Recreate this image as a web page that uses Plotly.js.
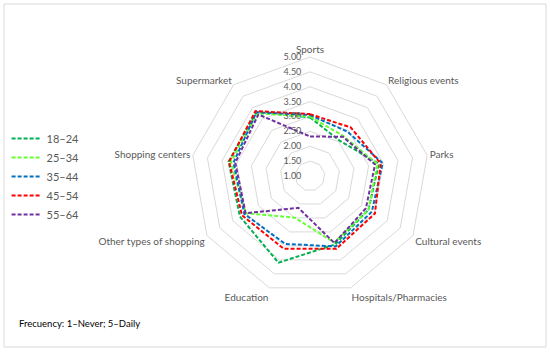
<!DOCTYPE html>
<html>
<head>
<meta charset="utf-8">
<script src="https://cdn.plot.ly/plotly-3.0.1.min.js"></script>
<style>html,body{margin:0;padding:0;background:#fff;}#chart{width:550px;height:353px;}</style>
</head>
<body>
<div id="chart"></div>
<script>
const categories = ['Sports','Religious events','Parks','Cultural events','Hospitals/Pharmacies','Education','Other types of shopping','Shopping centers','Supermarket'];
const seriesNames = ['18–24','25–34','35–44','45–54','55–64'];
const age18_24 = [2.97, 2.55, 3.35, 3.27, 3.45, 4.10, 3.72, 3.78, 3.80];
const age25_34 = [3.00, 2.75, 3.30, 3.27, 3.38, 2.49, 3.50, 3.70, 3.75];
const age35_44 = [3.05, 2.95, 3.48, 3.40, 3.52, 3.43, 3.55, 3.61, 3.80];
const age45_54 = [3.08, 3.13, 3.41, 3.52, 3.60, 3.60, 3.64, 3.76, 3.85];
const age55_64 = [2.33, 2.72, 3.22, 3.17, 3.40, 2.14, 3.50, 3.55, 3.70];
const radialTicks = [1, 1.5, 2, 2.5, 3, 3.5, 4, 4.5, 5];
const radialTickText = ['1.00','1.50','2.00','2.50','3.00','3.50','4.00','4.50','5.00'];

const seriesValues = [age18_24, age25_34, age35_44, age45_54, age55_64];
const colors = ['#00b050','#66ff33','#0070c0','#ff0000','#7030a0'];
const font = 'Lato, "Open Sans", sans-serif';

const traces = seriesValues.map((vals, i) => ({
  type: 'scatterpolar',
  mode: 'lines',
  name: seriesNames[i],
  r: vals.concat([vals[0]]),
  theta: categories.concat([categories[0]]),
  line: {color: colors[i], width: 2, dash: '4px,2px'},
  hoverinfo: 'skip'
}));

const layout = {
  width: 550, height: 353,
  margin: {l: 0, r: 0, t: 0, b: 0},
  paper_bgcolor: '#ffffff',
  plot_bgcolor: '#ffffff',
  font: {family: font, size: 11, color: '#595959'},
  showlegend: true,
  legend: {
    x: 0.012, y: 0.649, xanchor: 'left', yanchor: 'top',
    font: {family: font, size: 11, color: '#595959'},
    bgcolor: 'rgba(0,0,0,0)', tracegroupgap: 0
  },
  polar: {
    domain: {x: [191/550, 429/550], y: [58/353, 296/353]},
    bgcolor: '#ffffff',
    gridshape: 'linear',
    radialaxis: {
      range: [1, 5], tickvals: radialTicks, ticktext: radialTickText,
      angle: 90, tickangle: 90, side: 'counterclockwise',
      showline: false, ticks: 'outside', ticklen: 5, tickcolor: 'rgba(0,0,0,0)',
      gridcolor: '#d9d9d9', gridwidth: 1,
      tickfont: {family: font, size: 9, color: '#595959'}
    },
    angularaxis: {
      direction: 'clockwise', rotation: 90,
      showgrid: false, showline: true, linecolor: '#d9d9d9', linewidth: 1,
      ticks: '',
      tickfont: {family: font, size: 10, color: '#595959'}
    }
  },
  shapes: [{
    type: 'rect', xref: 'paper', yref: 'paper',
    x0: 4/550, x1: 546/550, y0: 6/353, y1: 349/353,
    line: {color: '#d9d9d9', width: 1}, fillcolor: 'rgba(0,0,0,0)'
  }],
  annotations: [{
    xref: 'paper', yref: 'paper', x: 17/550, y: (353-323)/353,
    xanchor: 'left', yanchor: 'middle', showarrow: false,
    text: 'Frecuency: 1–Never; 5–Daily',
    font: {family: font, size: 9.5, color: '#000000'}
  }]
};

Plotly.newPlot('chart', traces, layout, {staticPlot: true, displayModeBar: false});
</script>
</body>
</html>
